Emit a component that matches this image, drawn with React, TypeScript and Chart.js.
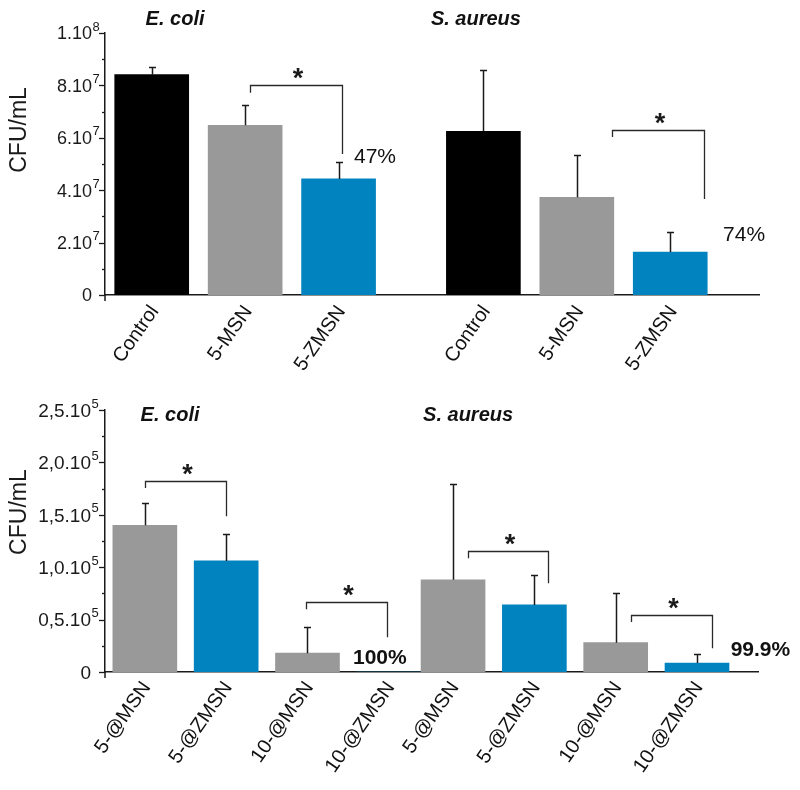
import React, { useEffect, useRef } from 'react';
import { Chart, registerables } from 'chart.js';

Chart.register(...registerables);

const FONT = '"Liberation Sans", Arial, Helvetica, sans-serif';

// ---------------- Top panel (E. coli / S. aureus, 5-MSN vs 5-ZMSN) ----------------
const topGroups = ['E. coli', 'S. aureus'];
const topCategories = ['Control', '5-MSN', '5-ZMSN'];
const topMeans = [8.41e7, 6.48e7, 4.43e7, 6.25e7, 3.73e7, 1.64e7];
const topErrors = [0.28e7, 0.78e7, 0.63e7, 2.33e7, 1.61e7, 0.78e7];
const topKinds = ['control', 'msn', 'zmsn', 'control', 'msn', 'zmsn'];
const topYTickValues = [0, 2e7, 4e7, 6e7, 8e7, 1e8];
const topYTickBase = ['0', '2.10', '4.10', '6.10', '8.10', '1.10'];
const topYTickExp = ['', '7', '7', '7', '7', '8'];
// significance brackets: bar index from/to, bracket top, left leg end, right leg end
const topBracketFrom = [1, 4];
const topBracketTo = [2, 5];
const topBracketTop = [8.0e7, 6.29e7];
const topBracketLeftEnd = [7.72e7, 6.03e7];
const topBracketRightEnd = [5.38e7, 3.66e7];
const topPercentText = ['47%', '74%'];
const topPercentY = [5.27e7, 2.29e7];

// ---------------- Bottom panel (@MSN vs @ZMSN) ----------------
const bottomGroups = ['E. coli', 'S. aureus'];
const bottomCategories = ['5-@MSN', '5-@ZMSN', '10-@MSN', '10-@ZMSN'];
const bottomMeans = [1.40e5, 1.06e5, 0.18e5, 0, 0.88e5, 0.64e5, 0.28e5, 0.086e5];
const bottomErrors = [0.21e5, 0.26e5, 0.25e5, 0, 0.91e5, 0.29e5, 0.47e5, 0.086e5];
const bottomKinds = ['msn', 'zmsn', 'msn', 'zmsn', 'msn', 'zmsn', 'msn', 'zmsn'];
const bottomYTickValues = [0, 0.5e5, 1.0e5, 1.5e5, 2.0e5, 2.5e5];
const bottomYTickBase = ['0', '0,5.10', '1,0.10', '1,5.10', '2,0.10', '2,5.10'];
const bottomYTickExp = ['', '5', '5', '5', '5', '5'];
const bottomBracketFrom = [0, 2, 4, 6];
const bottomBracketTo = [1, 3, 5, 7];
const bottomBracketTop = [1.819e5, 0.669e5, 1.153e5, 0.542e5];
const bottomBracketLeftEnd = [1.755e5, 0.599e5, 1.086e5, 0.476e5];
const bottomBracketRightEnd = [1.487e5, 0.331e5, 0.847e5, 0.226e5];
const bottomPercentText = ['100%', '99.9%'];
const bottomPercentY = [0.131e5, 0.207e5];

const KIND_COLORS: Record<string, string> = {
  control: '#000000',
  msn: '#999999',
  zmsn: '#0083bf',
};

type Spec = {
  groups: string[];
  categories: string[];
  means: number[];
  errors: number[];
  kinds: string[];
  yMax: number;
  yMinorStep: number;
  yTickValues: number[];
  yTickBase: string[];
  yTickExp: string[];
  bracketFrom: number[];
  bracketTo: number[];
  bracketTop: number[];
  bracketLeftEnd: number[];
  bracketRightEnd: number[];
  bracketFromOffset: number[];
  bracketToOffset: number[];
  percentText: string[];
  percentX: number[];
  percentY: number[];
  percentBold: boolean;
  titleX: number[];
  titleY: number;
  axisTitleY: number;
  groupGap: number;
  xMin: number;
  xMax: number;
  padTop: number;
  padRight: number;
  xAxisHeight: number;
  barThickness: number;
  yFontSize: number;
  yBaseRight: number;
  xLabelOffset: number;
  xLabelPadding: number;
};

const topSpec: Spec = {
  groups: topGroups,
  categories: topCategories,
  means: topMeans,
  errors: topErrors,
  kinds: topKinds,
  yMax: 1e8,
  yMinorStep: 1e7,
  yTickValues: topYTickValues,
  yTickBase: topYTickBase,
  yTickExp: topYTickExp,
  bracketFrom: topBracketFrom,
  bracketTo: topBracketTo,
  bracketTop: topBracketTop,
  bracketLeftEnd: topBracketLeftEnd,
  bracketRightEnd: topBracketRightEnd,
  bracketFromOffset: [0.05, 0.38],
  bracketToOffset: [0.04, 0.36],
  percentText: topPercentText,
  percentX: [2.39, 6.34],
  percentY: topPercentY,
  percentBold: false,
  titleX: [0.25, 3.47],
  titleY: 1.05e8,
  axisTitleY: 6.3e7,
  groupGap: 3.55,
  xMin: -0.5,
  xMax: 6.5,
  padTop: 33,
  padRight: 41,
  xAxisHeight: 100,
  barThickness: 74,
  yFontSize: 18,
  yBaseRight: 92,
  xLabelOffset: 3,
  xLabelPadding: 6,
};

const bottomSpec: Spec = {
  groups: bottomGroups,
  categories: bottomCategories,
  means: bottomMeans,
  errors: bottomErrors,
  kinds: bottomKinds,
  yMax: 2.5e5,
  yMinorStep: 0.25e5,
  yTickValues: bottomYTickValues,
  yTickBase: bottomYTickBase,
  yTickExp: bottomYTickExp,
  bracketFrom: bottomBracketFrom,
  bracketTo: bottomBracketTo,
  bracketTop: bottomBracketTop,
  bracketLeftEnd: bottomBracketLeftEnd,
  bracketRightEnd: bottomBracketRightEnd,
  bracketFromOffset: [0, -0.02, 0.185, 0.19],
  bracketToOffset: [0, -0.02, 0.17, 0.19],
  percentText: bottomPercentText,
  percentX: [2.89, 7.57],
  percentY: bottomPercentY,
  percentBold: true,
  titleX: [0.31, 3.975],
  titleY: 2.452e5,
  axisTitleY: 1.526e5,
  groupGap: 3.79,
  xMin: -0.49,
  xMax: 7.54,
  padTop: 15,
  padRight: 42,
  xAxisHeight: 118,
  barThickness: 64,
  yFontSize: 19,
  yBaseRight: 91,
  xLabelOffset: 2,
  xLabelPadding: 5,
};

function positionsOf(spec: Spec): number[] {
  const out: number[] = [];
  spec.groups.forEach((_, g) => {
    spec.categories.forEach((_, i) => out.push(g * spec.groupGap + i));
  });
  return out;
}

function labelsOf(spec: Spec): string[] {
  const out: string[] = [];
  spec.groups.forEach(() => spec.categories.forEach((c) => out.push(c)));
  return out;
}

function makeOverlay(spec: Spec, positions: number[]) {
  return {
    id: 'overlay',
    afterDraw(chart: any) {
      const ctx: CanvasRenderingContext2D = chart.ctx;
      const xs = chart.scales.x;
      const ys = chart.scales.y;
      const area = chart.chartArea;
      const left = area.left;
      ctx.save();

      // y-axis extension below x-axis
      ctx.strokeStyle = '#1a1a1a';
      ctx.lineWidth = 1.5;
      ctx.beginPath();
      ctx.moveTo(left, area.bottom);
      ctx.lineTo(left, area.bottom + 6);
      ctx.stroke();

      // y tick marks (major + minor)
      ctx.lineWidth = 1.3;
      const nMinor = Math.round(spec.yMax / spec.yMinorStep);
      for (let k = 0; k <= nMinor; k++) {
        const v = k * spec.yMinorStep;
        const major = spec.yTickValues.some((t) => Math.abs(t - v) < spec.yMinorStep * 0.01);
        const py = Math.round(ys.getPixelForValue(v)) + 0.5;
        ctx.beginPath();
        ctx.moveTo(left - (major ? 6 : 3), py);
        ctx.lineTo(left, py);
        ctx.stroke();
      }

      // y tick labels with superscript exponents
      ctx.fillStyle = '#1a1a1a';
      spec.yTickValues.forEach((v, i) => {
        const py = ys.getPixelForValue(v);
        ctx.font = `${spec.yFontSize}px ${FONT}`;
        ctx.textAlign = 'right';
        ctx.textBaseline = 'middle';
        ctx.fillText(spec.yTickBase[i], spec.yBaseRight, py + 1.5);
        if (spec.yTickExp[i]) {
          ctx.font = `13px ${FONT}`;
          ctx.textAlign = 'left';
          ctx.textBaseline = 'alphabetic';
          ctx.fillText(spec.yTickExp[i], spec.yBaseRight + 0.5, py - 2.5);
        }
      });

      // axis title
      ctx.save();
      ctx.translate(20, ys.getPixelForValue(spec.axisTitleY));
      ctx.rotate(-Math.PI / 2);
      ctx.font = `23px ${FONT}`;
      ctx.textAlign = 'center';
      ctx.textBaseline = 'middle';
      ctx.fillText('CFU/mL', 0, 0);
      ctx.restore();

      // error bars
      ctx.strokeStyle = '#1a1a1a';
      ctx.lineWidth = 1.5;
      spec.means.forEach((m, i) => {
        const e = spec.errors[i];
        if (!e) return;
        const px = Math.round(xs.getPixelForValue(positions[i])) + 0.5;
        const y0 = ys.getPixelForValue(m);
        const y1 = Math.round(ys.getPixelForValue(m + e)) + 0.5;
        ctx.beginPath();
        ctx.moveTo(px, y0);
        ctx.lineTo(px, y1);
        ctx.moveTo(px - 3.5, y1);
        ctx.lineTo(px + 3.5, y1);
        ctx.stroke();
      });

      // significance brackets and stars
      ctx.strokeStyle = '#2a2a2a';
      ctx.lineWidth = 1.3;
      spec.bracketFrom.forEach((from, b) => {
        const x1 = Math.round(xs.getPixelForValue(positions[from] + spec.bracketFromOffset[b])) + 0.5;
        const x2 = Math.round(xs.getPixelForValue(positions[spec.bracketTo[b]] + spec.bracketToOffset[b])) + 0.5;
        const yt = Math.round(ys.getPixelForValue(spec.bracketTop[b])) + 0.5;
        const yl = ys.getPixelForValue(spec.bracketLeftEnd[b]);
        const yr = ys.getPixelForValue(spec.bracketRightEnd[b]);
        ctx.beginPath();
        ctx.moveTo(x1, yl);
        ctx.lineTo(x1, yt);
        ctx.lineTo(x2, yt);
        ctx.lineTo(x2, yr);
        ctx.stroke();
        ctx.font = `bold 27px ${FONT}`;
        ctx.textAlign = 'center';
        ctx.textBaseline = 'alphabetic';
        ctx.fillStyle = '#1a1a1a';
        ctx.fillText('*', (x1 + x2) / 2 + 1.5, yt - 14 + 0.57 * 27);
      });

      // percentage notes
      ctx.fillStyle = '#111';
      ctx.textAlign = 'center';
      ctx.textBaseline = 'middle';
      spec.percentText.forEach((t, i) => {
        ctx.font = `${spec.percentBold ? 'bold ' : ''}21px ${FONT}`;
        ctx.fillText(t, xs.getPixelForValue(spec.percentX[i]), ys.getPixelForValue(spec.percentY[i]));
      });

      // group titles
      ctx.font = `italic bold 20px ${FONT}`;
      spec.groups.forEach((g, i) => {
        ctx.fillText(g, xs.getPixelForValue(spec.titleX[i]), ys.getPixelForValue(spec.titleY));
      });

      ctx.restore();
    },
  };
}

function Panel({ spec, top }: { spec: Spec; top: number }) {
  const ref = useRef<HTMLCanvasElement>(null);
  useEffect(() => {
    const canvas = ref.current;
    if (!canvas) return;
    const positions = positionsOf(spec);
    const labels = labelsOf(spec);
    const chart = new Chart(canvas, {
      type: 'bar',
      data: {
        datasets: [
          {
            data: positions.map((x, i) => ({ x, y: spec.means[i] })),
            backgroundColor: spec.kinds.map((k) => KIND_COLORS[k]),
            borderWidth: 0,
            barThickness: spec.barThickness,
          } as any,
        ],
      },
      options: {
        animation: false,
        responsive: false,
        devicePixelRatio: 1,
        layout: { padding: { top: spec.padTop, right: spec.padRight, left: 0, bottom: 0 } },
        plugins: { legend: { display: false }, tooltip: { enabled: false }, title: { display: false } },
        scales: {
          x: {
            type: 'linear',
            min: spec.xMin,
            max: spec.xMax,
            bounds: 'data',
            offset: false,
            afterBuildTicks: (s: any) => {
              s.ticks = positions.map((v) => ({ value: v }));
            },
            afterFit: (s: any) => {
              s.height = spec.xAxisHeight;
            },
            grid: { display: false, drawTicks: false, tickLength: 0 },
            border: { display: true, color: '#1a1a1a', width: 1.5 },
            ticks: {
              autoSkip: false,
              minRotation: 55,
              maxRotation: 55,
              padding: spec.xLabelPadding,
              labelOffset: spec.xLabelOffset,
              color: '#111',
              font: { family: FONT, size: 20 },
              callback: (_v: any, i: number) => labels[i] ?? '',
            },
          },
          y: {
            min: 0,
            max: spec.yMax,
            afterFit: (s: any) => {
              s.width = 105;
            },
            grid: { display: false, drawTicks: false },
            border: { display: true, color: '#1a1a1a', width: 1.5 },
            ticks: { display: false },
          },
        },
      } as any,
      plugins: [makeOverlay(spec, positions)],
    });
    return () => chart.destroy();
  }, [spec]);
  return (
    <canvas
      ref={ref}
      width={800}
      height={395}
      style={{ position: 'absolute', left: 0, top, width: 800, height: 395, display: 'block' }}
    />
  );
}

export default function App() {
  return (
    <div style={{ position: 'fixed', left: 0, top: 0, width: 800, height: 790, background: '#ffffff' }}>
      <Panel spec={topSpec} top={0} />
      <Panel spec={bottomSpec} top={395} />
    </div>
  );
}
